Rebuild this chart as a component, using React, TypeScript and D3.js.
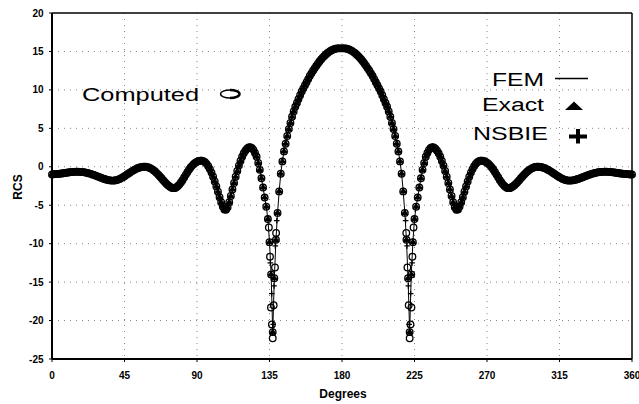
import React from "react";
import * as d3 from "d3";

// RCS (dB) sampled every degree, 0..360
const rcsValues: number[] = [
  -1.00,-0.98,-0.96,-0.94,-0.92,-0.90,-0.87,-0.84,-0.81,-0.78,
  -0.75,-0.72,-0.69,-0.67,-0.66,-0.65,-0.65,-0.66,-0.67,-0.69,
  -0.72,-0.76,-0.81,-0.86,-0.92,-0.99,-1.07,-1.15,-1.23,-1.31,
  -1.39,-1.47,-1.55,-1.62,-1.68,-1.73,-1.77,-1.80,-1.80,-1.78,
  -1.74,-1.67,-1.58,-1.47,-1.35,-1.22,-1.08,-0.94,-0.80,-0.66,
  -0.53,-0.41,-0.30,-0.20,-0.12,-0.06,-0.02,0.00,0.00,-0.03,
  -0.09,-0.18,-0.30,-0.45,-0.62,-0.82,-1.03,-1.26,-1.50,-1.74,
  -1.98,-2.20,-2.40,-2.57,-2.70,-2.78,-2.78,-2.70,-2.54,-2.32,
  -2.05,-1.74,-1.40,-1.05,-0.71,-0.39,-0.10,0.15,0.36,0.53,
  0.66,0.75,0.80,0.80,0.74,0.60,0.38,0.08,-0.30,-0.76,
  -1.30,-1.90,-2.55,-3.25,-3.95,-4.60,-5.15,-5.55,-5.60,-5.25,
  -4.60,-3.80,-2.95,-2.10,-1.30,-0.55,0.15,0.75,1.30,1.75,
  2.10,2.35,2.50,2.55,2.45,2.20,1.80,1.30,0.50,-0.40,
  -1.50,-2.70,-4.00,-5.20,-6.80,-9.80,-14.00,-21.50,-14.50,-9.50,
  -6.00,-3.20,-0.90,0.70,2.00,3.00,4.00,4.90,5.70,6.50,
  7.20,7.80,8.30,8.80,9.30,9.80,10.20,10.60,11.00,11.40,
  11.80,12.15,12.50,12.80,13.10,13.40,13.70,13.95,14.20,14.40,
  14.60,14.80,14.95,15.10,15.20,15.30,15.35,15.40,15.40,15.40,
  15.40,
  15.40,15.40,15.35,15.30,15.20,15.10,14.95,14.80,14.60,14.40,
  14.20,13.95,13.70,13.40,13.10,12.80,12.50,12.15,11.80,11.40,
  11.00,10.60,10.20,9.80,9.30,8.80,8.30,7.80,7.20,6.50,
  5.70,4.90,4.00,3.00,2.00,0.70,-0.90,-3.20,-6.00,-9.50,
  -14.50,-21.50,-14.00,-9.80,-6.80,-5.20,-4.00,-2.70,-1.50,-0.40,
  0.50,1.30,1.80,2.20,2.45,2.55,2.50,2.35,2.10,1.75,
  1.30,0.75,0.15,-0.55,-1.30,-2.10,-2.95,-3.80,-4.60,-5.25,
  -5.60,-5.55,-5.15,-4.60,-3.95,-3.25,-2.55,-1.90,-1.30,-0.76,
  -0.30,0.08,0.38,0.60,0.74,0.80,0.80,0.75,0.66,0.53,
  0.36,0.15,-0.10,-0.39,-0.71,-1.05,-1.40,-1.74,-2.05,-2.32,
  -2.54,-2.70,-2.78,-2.78,-2.70,-2.57,-2.40,-2.20,-1.98,-1.74,
  -1.50,-1.26,-1.03,-0.82,-0.62,-0.45,-0.30,-0.18,-0.09,-0.03,
  0.00,0.00,-0.02,-0.06,-0.12,-0.20,-0.30,-0.41,-0.53,-0.66,
  -0.80,-0.94,-1.08,-1.22,-1.35,-1.47,-1.58,-1.67,-1.74,-1.78,
  -1.80,-1.80,-1.77,-1.73,-1.68,-1.62,-1.55,-1.47,-1.39,-1.31,
  -1.23,-1.15,-1.07,-0.99,-0.92,-0.86,-0.81,-0.76,-0.72,-0.69,
  -0.67,-0.66,-0.65,-0.65,-0.66,-0.67,-0.69,-0.72,-0.75,-0.78,
  -0.81,-0.84,-0.87,-0.90,-0.92,-0.94,-0.96,-0.98,-1.00,-1.00,
];
const angles: number[] = rcsValues.map((_, i) => i);

// extra samples of the computed / NSBIE series inside the two nulls
const computedNullAngles = [134.6, 135.3, 135.9, 136.5, 137.0, 137.6, 138.4, 139.1,
  224.4, 223.7, 223.1, 222.5, 222.0, 221.4, 220.6, 219.9];
const computedNullValues = [-7.9, -11.7, -18.3, -20.5, -22.3, -18.0, -13.1, -8.6,
  -7.9, -11.7, -18.3, -20.5, -22.3, -18.0, -13.1, -8.6];
const nsbieNullAngles = [135.5, 136.4, 137.3, 137.8, 138.6, 139.5,
  223.5, 222.6, 221.7, 221.2, 220.4, 219.5];
const nsbieNullValues = [-12.5, -16.5, -20.5, -15.5, -10.3, -7.0,
  -12.5, -16.5, -20.5, -15.5, -10.3, -7.0];

const xTicks = [0, 45, 90, 135, 180, 225, 270, 315, 360];
const yTicks = [-25, -20, -15, -10, -5, 0, 5, 10, 15, 20];

const W = 639, H = 404;
const FONT = "'Liberation Sans', Arial, Helvetica, sans-serif";

export default function App() {
  const x = d3.scaleLinear().domain([0, 360]).range([52, 632]);
  const y = d3.scaleLinear().domain([-25, 20]).range([359, 13]);

  const line = d3.line<number>().x((_, i) => x(angles[i])).y((v) => y(v));
  const tri = d3.symbol(d3.symbolTriangle, 22)()!;

  const circles = [
    ...angles.map((a, i) => [a, rcsValues[i]]),
    ...computedNullAngles.map((a, i) => [a, computedNullValues[i]]),
  ];
  const pluses = [
    ...angles.map((a, i) => [a, rcsValues[i]]),
    ...nsbieNullAngles.map((a, i) => [a, nsbieNullValues[i]]),
  ];

  return (
    <svg width={W} height={H} style={{ position: "absolute", left: 0, top: 0, background: "#fff" }}>
      <rect width={W} height={H} fill="#fff" />
      {/* grid */}
      {yTicks.filter((t) => t > -25 && t < 20).map((t) => (
        <line key={"gy" + t} x1={x(0)} x2={x(360)} y1={y(t)} y2={y(t)}
          stroke="#888" strokeWidth={1} strokeDasharray="1 5" />
      ))}
      {xTicks.filter((t) => t > 0 && t < 360).map((t) => (
        <line key={"gx" + t} x1={x(t)} x2={x(t)} y1={y(20)} y2={y(-25)}
          stroke="#888" strokeWidth={1} strokeDasharray="1 5" />
      ))}
      {/* frame */}
      <line x1={x(0)} x2={x(360)} y1={y(20)} y2={y(20)} stroke="#000" strokeWidth={1.5} />
      <line x1={x(360)} x2={x(360)} y1={y(20)} y2={y(-25)} stroke="#000" strokeWidth={1.5} />
      <line x1={x(0)} x2={x(360)} y1={y(-25)} y2={y(-25)} stroke="#000" strokeWidth={2} />
      <line x1={x(0)} x2={x(0)} y1={y(20)} y2={y(-25)} stroke="#000" strokeWidth={2} />
      {/* ticks and labels */}
      {yTicks.map((t) => (
        <g key={"ty" + t}>
          <line x1={x(0) - 3} x2={x(0)} y1={y(t)} y2={y(t)} stroke="#000" strokeWidth={1} />
          <text x={43.5} y={y(t) + 3.5} textAnchor="end" fontFamily={FONT} fontWeight="bold" fontSize={10}>{t}</text>
        </g>
      ))}
      {xTicks.map((t) => (
        <g key={"tx" + t}>
          <line x1={x(t)} x2={x(t)} y1={y(-25)} y2={y(-25) + 3} stroke="#000" strokeWidth={1} />
          <text x={x(t)} y={379} textAnchor="middle" fontFamily={FONT} fontWeight="bold" fontSize={10}>{t}</text>
        </g>
      ))}
      <text x={343} y={398} textAnchor="middle" fontFamily={FONT} fontWeight="bold" fontSize={12}>Degrees</text>
      <text transform="translate(22,187) rotate(-90)" textAnchor="middle" fontFamily={FONT} fontWeight="bold" fontSize={12}>RCS</text>

      {/* FEM line */}
      <path d={line(rcsValues) ?? ""} fill="none" stroke="#000" strokeWidth={1} />
      {/* Computed circles */}
      {circles.map(([a, v], i) => (
        <circle key={"c" + i} cx={x(a)} cy={y(v)} r={3.3} fill="none" stroke="#000" strokeWidth={1.3} />
      ))}
      {/* Exact triangles */}
      {angles.map((a, i) => (
        <path key={"t" + i} d={tri} transform={`translate(${x(a)},${y(rcsValues[i])})`} fill="#000" />
      ))}
      {/* NSBIE pluses */}
      {pluses.map(([a, v], i) => (
        <path key={"p" + i} d={`M${x(a) - 2.8},${y(v)}h5.6M${x(a)},${y(v) - 2.8}v5.6`} stroke="#000" strokeWidth={1.2} />
      ))}

      {/* legend */}
      <text x={82} y={101} fontFamily={FONT} fontSize={18} textLength={117} lengthAdjust="spacingAndGlyphs">Computed</text>
      <ellipse cx={230} cy={94} rx={9.5} ry={4} fill="none" stroke="#000" strokeWidth={1.5} />
      <path d="M230,90 A9.5,4 0 0 1 230,98" fill="none" stroke="#000" strokeWidth={2.5} />

      <text x={544} y={86} textAnchor="end" fontFamily={FONT} fontSize={18} textLength={52} lengthAdjust="spacingAndGlyphs">FEM</text>
      <line x1={555} x2={588} y1={78.5} y2={78.5} stroke="#000" strokeWidth={1.3} />
      <text x={544} y={111} textAnchor="end" fontFamily={FONT} fontSize={18} textLength={62} lengthAdjust="spacingAndGlyphs">Exact</text>
      <path d="M565,110 L574,101.5 L583,110 Z" fill="#000" />
      <text x={548} y={140} textAnchor="end" fontFamily={FONT} fontSize={18} textLength={75} lengthAdjust="spacingAndGlyphs">NSBIE</text>
      <path d="M569,136.5 h18 M578,129 v14.5" stroke="#000" strokeWidth={4} />
    </svg>
  );
}
